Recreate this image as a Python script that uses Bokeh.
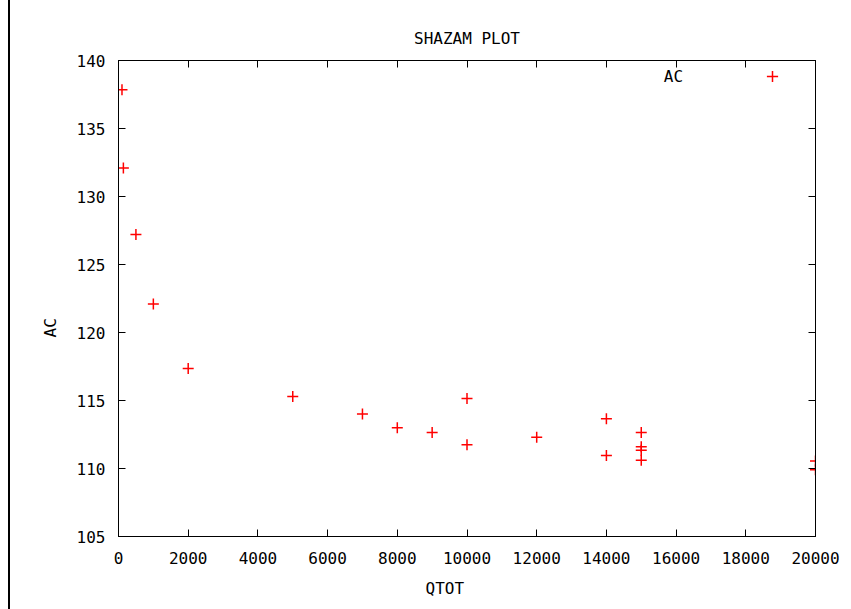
from bokeh.plotting import figure
from bokeh.embed import file_html
from bokeh.resources import INLINE
from bokeh.models import (LinearAxis, FixedTicker, Legend, LegendItem, Label, Div, Title,
                          Range1d, CustomJSTickFormatter, ColumnDataSource)
from bokeh.layouts import row

# ---- data ----
qtot = [100, 140, 500, 1000, 2000, 5000, 7000, 8000, 9000, 10000, 10000, 12000,
        14000, 14000, 15000, 15000, 15000, 15000, 20000, 20000]
ac = [137.85, 132.1, 127.2, 122.1, 117.35, 115.3, 114.0, 113.0, 112.65, 115.15, 111.75, 112.3,
      113.65, 110.95, 112.65, 111.6, 111.35, 110.6, 110.55, 109.9]
x_ticks = [0, 2000, 4000, 6000, 8000, 10000, 12000, 14000, 16000, 18000, 20000]
y_ticks = [105, 110, 115, 120, 125, 130, 135, 140]
title_text = "SHAZAM PLOT"
x_label = "QTOT"
y_label = "AC"
series_name = "AC"

FONT = "DejaVu Sans Mono"
FS = "16px"

src = ColumnDataSource(data=dict(x=qtot, y=ac))

fig = figure(width=841, height=609, output_backend="svg", toolbar_location=None,
             x_range=Range1d(0, 20000), y_range=Range1d(105, 140),
             min_border_left=108, min_border_right=36, min_border_top=60,
             min_border_bottom=73, title=title_text)

fig.title.align = "center"
fig.title.text_font = FONT
fig.title.text_font_size = FS
fig.title.text_font_style = "normal"
fig.title.text_color = "black"
fig.title.standoff = 26

fig.xgrid.visible = False
fig.ygrid.visible = False
fig.outline_line_color = "black"
fig.outline_line_width = 1
fig.background_fill_color = "white"
fig.border_fill_color = "white"

fig.xaxis.ticker = FixedTicker(ticks=x_ticks)
fig.yaxis.ticker = FixedTicker(ticks=y_ticks)


def style_axis(ax):
    ax.axis_line_color = "black"
    ax.axis_line_width = 1
    ax.major_tick_line_color = "black"
    ax.major_tick_line_width = 1
    ax.major_tick_in = 7
    ax.major_tick_out = 0
    ax.minor_tick_line_color = None
    ax.major_label_text_font = FONT
    ax.major_label_text_font_size = FS
    ax.major_label_text_color = "black"


for ax in fig.xaxis:
    style_axis(ax)
    ax.major_label_standoff = 15
for ax in fig.yaxis:
    style_axis(ax)
    ax.major_label_standoff = 13

# axis titles (gnuplot places them slightly off-centre)
xt = Title(text=x_label, align="left", offset=307, standoff=20, text_font=FONT,
           text_font_size=FS, text_font_style="normal", text_color="black")
fig.add_layout(xt, "below")
yt = Title(text=y_label, align="left", offset=199, standoff=28, text_font=FONT,
           text_font_size=FS, text_font_style="normal", text_color="black")
fig.add_layout(yt, "left")

blank = CustomJSTickFormatter(code="return ''")
right_ax = LinearAxis(ticker=FixedTicker(ticks=y_ticks), formatter=blank)
style_axis(right_ax)
right_ax.major_label_standoff = 0
fig.add_layout(right_ax, "right")
top_ax = LinearAxis(ticker=FixedTicker(ticks=x_ticks), formatter=blank)
style_axis(top_ax)
top_ax.major_label_standoff = 0
fig.add_layout(top_ax, "above")

r = fig.scatter("x", "y", source=src, marker="cross", size=11,
                line_color="red", line_width=1.5)

legend = Legend(items=[LegendItem(label=" ", renderers=[r])], location=(640, 446),
                padding=0, margin=0, spacing=0, glyph_width=28, glyph_height=28,
                label_width=0, label_standoff=0, label_text_font_size="1px",
                border_line_color=None, background_fill_alpha=0)
fig.add_layout(legend)
fig.add_layout(Label(x=555, y=460, x_units="screen", y_units="screen", text=series_name,
                     text_font=FONT, text_font_size=FS, text_align="center",
                     text_baseline="middle", text_color="black"))

gap = Div(width=8, height=609, styles={"background-color": "white"}, margin=0)
edge = Div(width=2, height=609, styles={"background-color": "black"}, margin=0)
p = row(gap, edge, fig, spacing=0)

open("out.html", "w").write(file_html(p, INLINE))
